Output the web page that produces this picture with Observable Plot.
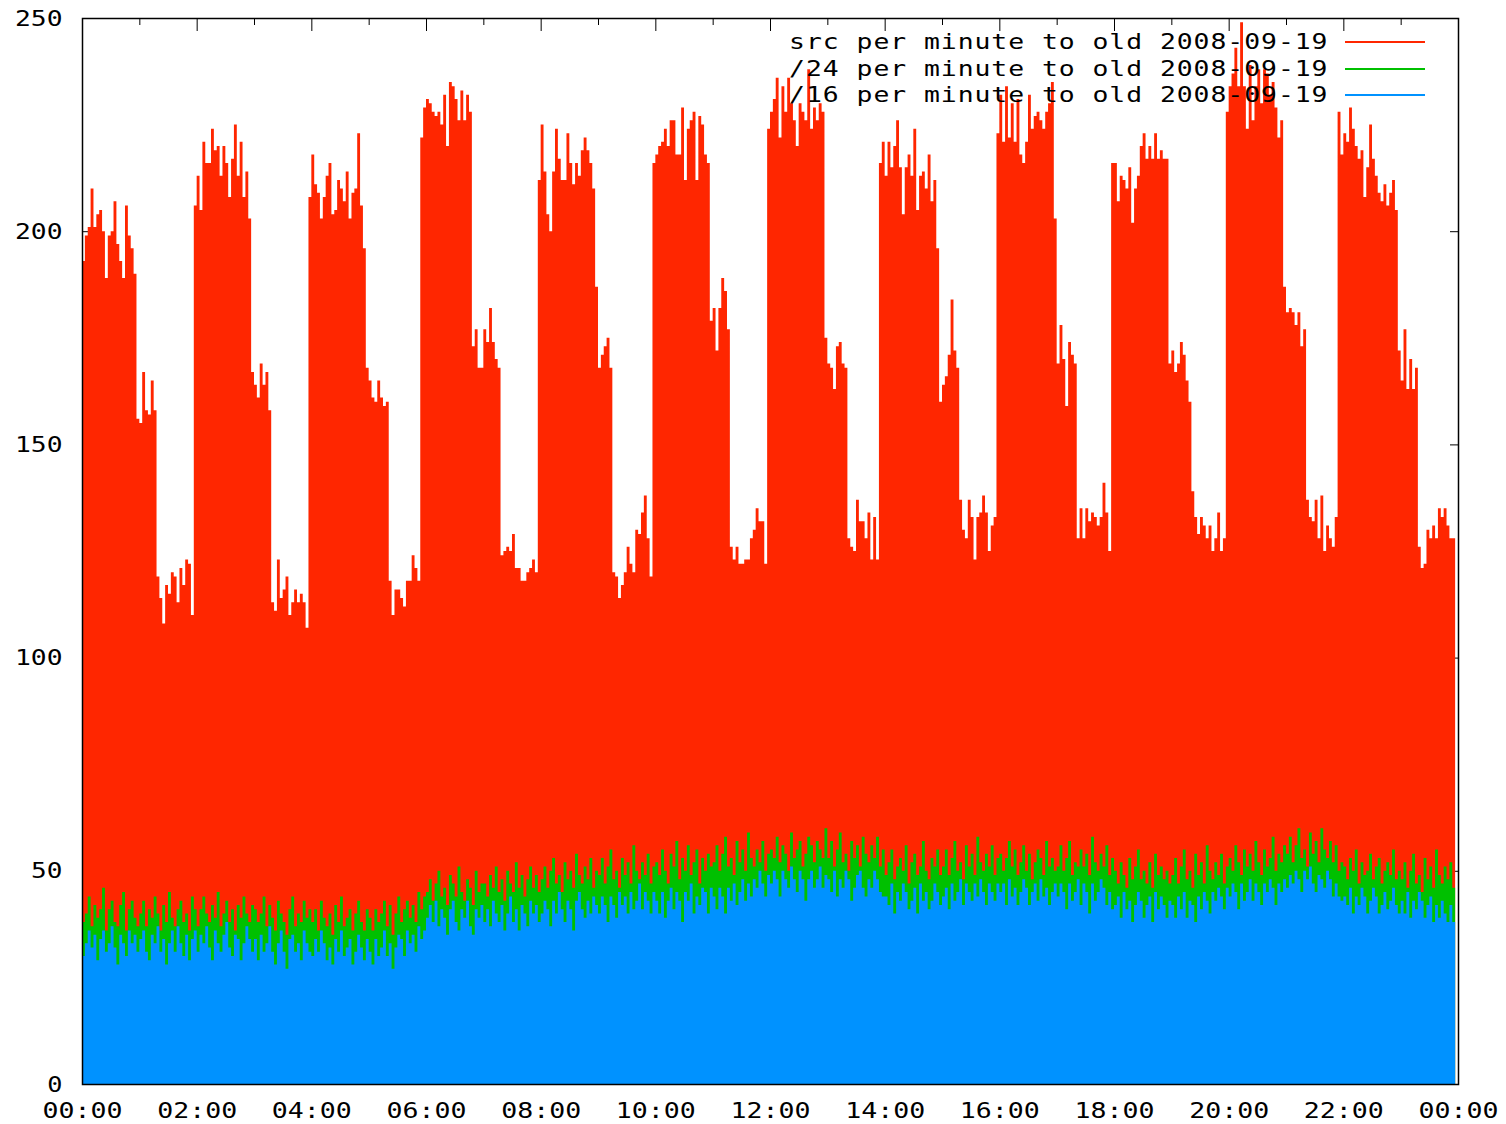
<!DOCTYPE html>
<html>
<head>
<meta charset="utf-8">
<script src="https://cdn.jsdelivr.net/npm/d3@7"></script>
<script src="https://cdn.jsdelivr.net/npm/@observablehq/plot@0.6"></script>
<style>
  html, body { margin: 0; padding: 0; background: #fff; overflow: hidden; }
  #wrap { position: relative; width: 1506px; height: 1124px; }
  .leg { position: absolute; font-family: "DejaVu Sans Mono", monospace; font-size: 22px; letter-spacing: 0.8px; white-space: pre; color: #000; line-height: 26px; text-align: right; transform: scaleX(1.2); transform-origin: right center; }
  .legline { position: absolute; height: 2px; }
</style>
</head>
<body>
<div id="wrap"></div>
<script>
// ---- data: one value per 3-minute bin starting at 00:00 ----
const binMinutes = 3;

// src per minute (red)
const srcPerMinute = [
  // 00:00 - 01:57
  193,199,201,210,201,204,205,200,189,199,200,207,197,193,189,206,199,196,190,
  156,155,167,158,157,165,158,
  119,114,108,117,115,120,119,113,121,117,123,122,110,
  // 01:57 - 03:57
  206,213,205,221,216,216,224,219,220,213,220,216,208,217,225,213,221,208,214,203,
  167,164,161,169,164,167,158,
  113,111,123,114,116,119,110,113,116,113,115,113,107,
  // 03:57 - 05:54
  208,218,211,209,203,208,213,216,204,205,212,210,207,214,203,209,210,223,206,196,
  168,165,161,160,165,161,159,160,
  118,110,116,116,114,112,118,118,124,121,118,
  // 05:54 - 07:57
  222,229,231,230,228,227,228,225,232,220,235,234,231,226,233,226,232,228,
  173,177,168,168,177,174,182,174,170,168,
  124,125,126,125,129,121,121,118,118,120,121,123,120,
  // 07:57 - 09:57
  212,225,214,204,200,214,224,217,212,212,223,216,211,216,213,219,222,219,216,210,
  187,168,171,173,175,168,
  120,119,114,117,120,126,122,120,130,129,134,138,128,119,
  // 09:57 - 11:57
  216,218,220,221,224,220,226,226,218,218,229,212,224,226,228,212,227,225,218,216,
  179,182,172,182,189,186,177,
  126,123,126,122,122,123,123,128,130,135,132,132,122,
  // 11:57 - 13:54
  224,228,231,236,222,234,228,236,230,226,220,230,228,226,238,224,229,226,230,228,
  175,169,168,163,173,174,169,168,
  128,126,125,137,132,132,128,134,123,133,123,
  // 13:54 - 15:57
  216,221,213,221,215,220,226,215,204,215,218,213,224,205,213,214,210,218,207,212,196,
  160,164,166,171,184,172,168,
  137,130,128,137,133,123,133,134,138,134,125,131,133,
  // 15:57 - 17:57
  223,232,221,234,222,230,221,231,218,216,221,232,224,227,228,226,224,228,230,235,
  203,169,178,170,159,174,171,169,
  128,135,128,135,132,134,133,131,133,141,134,125,
  // 17:57 - 19:57
  216,216,207,213,212,210,215,202,210,213,220,223,217,220,217,223,217,219,217,217,
  169,172,167,169,174,171,165,160,
  139,133,129,133,131,128,131,125,128,134,125,128,
  // 19:57 - 21:54
  228,234,237,243,234,249,234,224,239,226,234,238,230,238,237,232,235,229,222,226,
  187,181,182,181,178,181,173,177,
  137,133,132,137,128,138,125,131,128,126,133,
  // 21:54 - 23:57
  228,218,223,221,229,224,220,217,219,208,215,225,217,213,209,207,211,206,209,212,205,
  172,165,177,163,170,163,168,
  126,121,122,130,128,131,128,135,133,135,131,128,128
];

// /24 per minute (green), one row per hour
const slash24PerMinute = [
  38,40,44,37,42,39,41,46,36,41,43,38,37,42,45,36,41,43,39,37,
  40,43,37,41,39,44,40,36,42,38,45,39,37,41,43,38,40,36,44,41,
  37,41,44,40,38,42,39,45,37,40,43,38,41,36,42,39,44,40,38,42,
  41,38,40,44,37,42,39,36,43,40,38,35,41,44,37,40,38,43,39,41,
  38,41,36,43,39,37,40,35,42,38,44,37,39,41,36,40,43,38,36,41,
  39,36,41,38,40,43,37,42,35,40,44,38,41,43,39,42,38,45,41,44,
  45,48,43,47,50,44,46,42,49,47,44,51,45,43,48,46,42,50,45,47,
  47,44,49,46,51,45,48,43,50,47,45,52,46,49,44,48,51,46,49,45,
  48,51,46,50,53,47,49,45,52,48,50,46,54,49,47,51,48,53,46,50,
  49,53,47,51,55,48,50,46,53,49,52,47,56,50,48,52,49,54,47,51,
  52,49,55,50,47,54,51,57,48,53,50,56,49,52,55,47,53,50,54,51,
  52,56,50,54,58,51,53,49,57,52,55,50,59,53,51,55,52,57,50,54,
  55,53,58,52,56,54,50,59,53,55,57,51,54,58,56,52,57,55,53,60,
  53,57,51,55,59,52,54,50,57,53,56,51,58,54,52,56,53,58,51,55,
  49,52,55,48,51,53,50,56,47,52,54,49,51,57,50,48,53,51,55,49,
  51,55,49,53,57,50,52,48,56,51,54,49,58,52,50,54,51,56,49,53,
  54,50,53,57,51,55,49,52,56,50,54,48,52,55,53,49,57,51,53,50,
  51,56,50,53,57,49,52,51,55,51,54,49,58,52,50,54,51,56,49,53,
  50,47,52,49,46,53,48,51,55,48,50,47,52,46,54,49,51,48,50,47,
  49,53,47,51,55,48,50,46,54,49,52,47,56,50,48,52,49,54,47,51,
  53,50,56,52,49,55,51,54,50,57,52,49,55,51,53,58,50,54,52,56,
  54,58,52,56,60,53,55,51,59,54,57,52,60,55,53,57,52,56,50,52,
  51,48,53,50,55,47,52,49,50,54,48,51,53,47,50,52,49,55,48,50,
  48,52,46,50,54,47,49,45,53,48,51,46,55,49,47,51,48,52,46
];

// /16 per minute (blue), one row per hour
const slash16PerMinute = [
  30,33,36,32,35,29,34,36,31,33,37,32,28,35,33,30,36,33,35,31,
  34,36,31,29,35,33,37,31,34,28,33,36,31,37,33,30,35,29,34,36,
  31,35,33,37,32,29,36,33,31,35,38,32,30,35,34,29,33,37,34,31,
  34,29,35,31,33,37,31,28,33,36,31,27,34,35,31,33,29,36,33,31,
  30,34,31,36,33,29,32,28,34,31,36,30,32,34,28,31,35,32,29,34,
  31,28,34,30,32,36,30,33,27,32,35,34,30,36,33,35,31,37,34,36,
  39,42,38,43,37,41,39,35,41,43,38,36,41,39,43,37,35,41,39,42,
  38,41,37,43,40,38,42,36,40,44,38,41,36,42,40,37,43,40,42,38,
  40,43,41,37,43,40,45,41,38,43,41,36,43,45,41,39,43,40,44,42,
  40,44,42,38,44,42,39,45,42,44,40,45,41,43,47,41,45,43,40,45,
  43,40,45,39,43,46,41,45,43,38,45,43,47,40,44,42,46,45,40,46,
  44,41,46,44,40,46,43,47,42,45,48,43,47,44,48,46,50,47,44,49,
  47,50,48,44,50,48,46,51,48,45,50,48,43,48,50,46,48,51,46,49,
  48,45,50,44,48,46,50,48,43,46,49,50,46,44,48,46,50,48,45,44,
  44,42,47,40,45,43,47,45,41,43,46,40,47,43,45,41,43,47,45,42,
  44,46,41,47,43,45,48,42,47,45,43,47,44,48,45,42,47,45,43,47,
  45,47,42,48,44,46,42,45,48,46,42,45,47,43,48,44,46,42,45,47,
  44,47,45,41,47,43,45,48,42,47,45,40,47,43,45,48,46,42,45,41,
  42,44,39,45,41,43,38,42,45,43,39,42,44,38,45,41,44,42,39,43,
  42,39,44,41,45,39,43,42,38,44,41,45,43,40,45,43,46,44,41,46,
  44,47,45,41,47,43,45,48,43,47,45,42,47,45,48,46,42,47,45,48,
  46,49,47,50,48,45,50,48,51,47,45,49,48,46,50,48,44,47,44,43,
  44,42,46,40,44,42,46,44,40,43,46,44,40,42,45,41,43,46,42,40,
  43,40,45,39,43,41,45,43,39,42,44,38,42,39,43,40,38,42,38
];

const legendLabels = [
  "src per minute to old 2008-09-19",
  "/24 per minute to old 2008-09-19",
  "/16 per minute to old 2008-09-19"
];
const seriesColors = ["#ff2600", "#00c000", "#0092ff"];

const xMajorTicks = [0, 120, 240, 360, 480, 600, 720, 840, 960, 1080, 1200, 1320, 1440];
const xMinorTicks = [60, 180, 300, 420, 540, 660, 780, 900, 1020, 1140, 1260, 1380];
const yTicks = [0, 50, 100, 150, 200, 250];

// ---- build rows ----
function toRows(values) {
  const rows = values.map((v, i) => ({t: i * binMinutes, v}));
  rows.push({t: values.length * binMinutes, v: values[values.length - 1]});
  return rows;
}
const seriesRows = [srcPerMinute, slash24PerMinute, slash16PerMinute].map(toRows);

const hhmm = (m) => String(Math.floor(m / 60) % 24).padStart(2, "0") + ":" + String(m % 60).padStart(2, "0");
const blank = () => "";

const chart = Plot.plot({
  width: 1506,
  height: 1124,
  marginLeft: 82,
  marginRight: 48,
  marginTop: 18,
  marginBottom: 40,
  x: {domain: [0, 1440]},
  y: {domain: [0, 250]},
  style: {
    fontFamily: "'DejaVu Sans Mono', monospace",
    fontSize: "22px",
    color: "#000",
    background: "#fff"
  },
  marks: [
    // inward ticks (drawn under the data, like gnuplot)
    Plot.axisY(yTicks, {anchor: "left", tickSize: 9, dx: 9, tickFormat: blank, label: null}),
    Plot.axisY(yTicks, {anchor: "right", tickSize: 9, dx: -9, tickFormat: blank, label: null}),
    Plot.axisX(xMajorTicks, {anchor: "bottom", tickSize: 12, dy: -12, tickFormat: blank, label: null}),
    Plot.axisX(xMajorTicks, {anchor: "top", tickSize: 12, dy: 12, tickFormat: blank, label: null}),
    Plot.axisX(xMinorTicks, {anchor: "bottom", tickSize: 6, dy: -6, tickFormat: blank, label: null}),
    Plot.axisX(xMinorTicks, {anchor: "top", tickSize: 6, dy: 6, tickFormat: blank, label: null}),
    // tick labels
    Plot.axisY(yTicks, {anchor: "left", tickSize: 0, tickPadding: 20, label: null}),
    Plot.axisX(xMajorTicks, {anchor: "bottom", tickSize: 0, tickPadding: 18, tickFormat: hhmm, label: null}),
    // data
    ...seriesRows.map((rows, i) =>
      Plot.areaY(rows, {x: "t", y: "v", curve: "step-after", fill: seriesColors[i]})
    ),
    Plot.frame({stroke: "#000", strokeWidth: 1.5})
  ]
});

// widen the monospace glyphs to resemble gnuplot's wide bitmap font
chart.querySelectorAll("text").forEach((el) => {
  const s = el.textContent;
  if (!s) return;
  el.setAttribute("textLength", (s.length * 16.2 - 1).toFixed(1));
  el.setAttribute("lengthAdjust", "spacingAndGlyphs");
});

const wrap = document.getElementById("wrap");
wrap.appendChild(chart);

// legend (gnuplot style, inside the plot, top-right)
legendLabels.forEach((label, i) => {
  const cy = 42 + i * 26.5;
  const t = document.createElement("div");
  t.className = "leg";
  t.textContent = label;
  t.style.right = (1506 - 1328) + "px";
  t.style.top = (cy - 13) + "px";
  wrap.appendChild(t);
  const l = document.createElement("div");
  l.className = "legline";
  l.style.left = "1345px";
  l.style.width = "80px";
  l.style.top = (cy - 1) + "px";
  l.style.background = seriesColors[i];
  wrap.appendChild(l);
});
</script>
</body>
</html>
